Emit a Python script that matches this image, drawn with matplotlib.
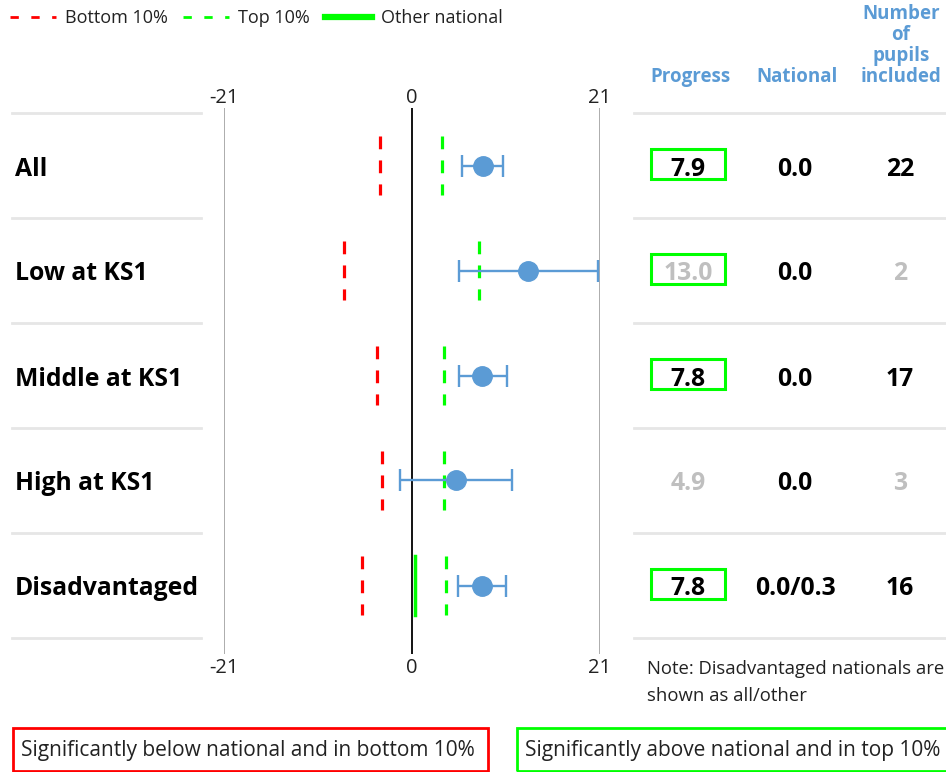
import matplotlib
matplotlib.use("Agg")
import matplotlib.pyplot as plt
from matplotlib.patches import Rectangle
from matplotlib.transforms import blended_transform_factory
from matplotlib.lines import Line2D

plt.rcParams['font.family'] = ['Open Sans', 'DejaVu Sans']

# data
categories = ["All", "Low at KS1", "Middle at KS1", "High at KS1", "Disadvantaged"]
progress = [7.9, 13.0, 7.8, 4.9, 7.8]
ci_low = [5.6, 5.2, 5.2, -1.3, 5.1]
ci_high = [10.2, 20.8, 10.6, 11.2, 10.5]
bottom10 = [-3.6, -7.6, -3.9, -3.4, -5.6]
top10 = [3.4, 7.5, 3.6, 3.6, 3.8]
other_national = [None, None, None, None, 0.3]
national_text = ["0.0", "0.0", "0.0", "0.0", "0.0/0.3"]
pupils = [22, 2, 17, 3, 16]
sig_above = [True, True, True, False, True]
greyed = [False, True, False, True, False]
xticks = [-21, 0, 21]

BLUE = "#5B9BD5"
RED = "#FF0000"
GREEN = "#00FF00"
GREY_TXT = "#BFBFBF"
SEP = "#E6E6E6"
TXT = "#222222"

W, H = 946, 772
fig = plt.figure(figsize=(W / 100, H / 100), dpi=100)

# plot area in pixels
x0, x1 = 224, 600
y_top, y_bot = 108, 654
ax = fig.add_axes([x0 / W, 1 - y_bot / H, (x1 - x0) / W, (y_bot - y_top) / H])
ax.set_xlim(-21, 21)
ax.set_ylim(4.5 + 16 / 105, -0.5 - 5 / 105)
for s in ax.spines.values():
    s.set_visible(False)
ax.set_yticks([])
ax.set_xticks(xticks)
ax.set_xticklabels([str(t) for t in xticks])
ax.tick_params(axis='x', length=0, labelsize=14.5, labelcolor=TXT, pad=3)
ax.set_facecolor("none")

# top tick labels
sec = ax.secondary_xaxis('top')
sec.set_xticks(xticks)
sec.set_xticklabels([str(t) for t in xticks])
sec.tick_params(axis='x', length=0, labelsize=14.5, labelcolor=TXT, pad=0)
for s in sec.spines.values():
    s.set_visible(False)

ax.axvline(-21, color="#A6A6A6", lw=1.3, zorder=1)
ax.axvline(21, color="#A6A6A6", lw=1.3, zorder=1)
ax.axvline(0, color="black", lw=1.3, zorder=1)

rows = list(range(len(categories)))
half = 0.285
for i in rows:
    ax.plot([bottom10[i], bottom10[i]], [i - half, i + half], color=RED, lw=2.3,
            linestyle=(0, (4, 3.5)), zorder=2)
    ax.plot([top10[i], top10[i]], [i - half, i + half], color=GREEN, lw=2.3,
            linestyle=(0, (4, 3.5)), zorder=2)
    if other_national[i] is not None:
        ax.plot([other_national[i], other_national[i]], [i - half, i + half],
                color=GREEN, lw=2.5, zorder=2)

err = [[p - l for p, l in zip(progress, ci_low)], [h - p for p, h in zip(progress, ci_high)]]
ax.errorbar(progress, rows, xerr=err, fmt='none', ecolor=BLUE, elinewidth=1.7,
            capsize=8, capthick=1.7, zorder=3)
ax.plot(progress, rows, 'o', color=BLUE, markersize=14, zorder=4)

# separators outside the plot area
tr = blended_transform_factory(ax.transAxes, ax.transData)
def px2ax(px):
    return (px - x0) / (x1 - x0)
for yv in [r - 0.5 for r in rows] + [rows[-1] + 0.5]:
    ax.plot([px2ax(12), px2ax(201)], [yv, yv], color=SEP, lw=2, transform=tr, clip_on=False)
    ax.plot([px2ax(634), px2ax(946)], [yv, yv], color=SEP, lw=2, transform=tr, clip_on=False)

# row labels and table (baseline ~10px below row centre)
base = 10 / 105
col_prog, col_nat, col_num = px2ax(688), px2ax(795), px2ax(900)
for i in rows:
    ax.text(px2ax(15), i + base, categories[i], transform=tr, ha='left', va='baseline',
            fontsize=17.8, fontweight='bold', color='black', clip_on=False)
    c = GREY_TXT if greyed[i] else 'black'
    ax.text(col_prog, i + base, f"{progress[i]:.1f}", transform=tr, ha='center', va='baseline',
            fontsize=17.8, fontweight='bold', color=c, clip_on=False)
    ax.text(col_nat, i + base, national_text[i], transform=tr, ha='center', va='baseline',
            fontsize=17.8, fontweight='bold', color='black', clip_on=False)
    ax.text(col_num, i + base, str(pupils[i]), transform=tr, ha='center', va='baseline',
            fontsize=17.8, fontweight='bold', color=c, clip_on=False)
    if sig_above[i]:
        ax.add_patch(Rectangle((px2ax(651), i - 0.155), px2ax(725) - px2ax(651), 0.28,
                               transform=tr, fill=False, edgecolor=GREEN, lw=2.2,
                               clip_on=False))

# column headers
hdr = dict(ha='center', va='baseline', fontsize=13.5, fontweight='bold', color=BLUE)
fig.text(690 / W, 1 - 82 / H, "Progress", **hdr)
fig.text(797 / W, 1 - 82 / H, "National", **hdr)
for k, word in enumerate(["Number", "of", "pupils", "included"]):
    fig.text(901 / W, 1 - (19 + 21 * k) / H, word, **hdr)

# legend
handles = [Line2D([], [], color=RED, lw=2, linestyle=(0, (3, 4.5))),
           Line2D([], [], color=GREEN, lw=2, linestyle=(0, (3, 4.5))),
           Line2D([], [], color=GREEN, lw=4.5)]
fig.legend(handles, ["Bottom 10%", "Top 10%", "Other national"], loc='upper left',
           bbox_to_anchor=(10 / W, 1 - 9 / H), ncol=3, frameon=False, fontsize=13,
           borderpad=0, borderaxespad=0,
           handlelength=2.55, handletextpad=0.5, columnspacing=0.85, labelcolor=TXT)

# note
fig.text(647 / W, 1 - 674 / H, "Note: Disadvantaged nationals are",
         ha='left', va='baseline', fontsize=13.3, color=TXT)
fig.text(647 / W, 1 - 701 / H, "shown as all/other",
         ha='left', va='baseline', fontsize=13.3, color=TXT)

# bottom key boxes
fig.add_artist(Rectangle((13 / W, 1 - 771 / H), 475 / W, 43 / H, transform=fig.transFigure,
                         fill=False, edgecolor=RED, lw=2))
fig.text(21 / W, 1 - 756 / H, "Significantly below national and in bottom 10%",
         ha='left', va='baseline', fontsize=15, color=TXT)
fig.add_artist(Rectangle((517 / W, 1 - 771 / H), 440 / W, 43 / H, transform=fig.transFigure,
                         fill=False, edgecolor=GREEN, lw=2))
fig.text(525 / W, 1 - 756 / H, "Significantly above national and in top 10%",
         ha='left', va='baseline', fontsize=15, color=TXT)

fig.savefig("out.png", dpi=100)
